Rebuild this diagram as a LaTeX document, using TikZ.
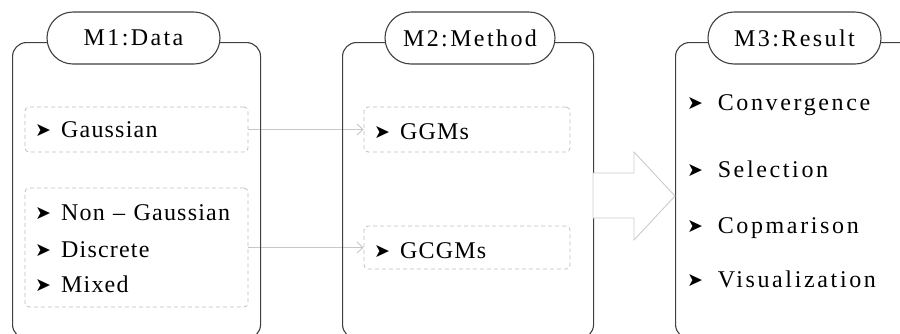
\documentclass[tikz,border=0pt]{standalone}
\usepackage{fontspec}
\setmainfont{Liberation Serif}[LetterSpace=5]
\newfontfamily\symfont{DejaVu Sans}
\usetikzlibrary{arrows.meta}

\newcommand{\bul}[1][10pt]{{\symfont\fontsize{19}{19}\selectfont\raisebox{1pt}{➤}}\hspace{#1}}

\begin{document}
\begin{tikzpicture}[x = 1pt, y = -1pt,
	panel/.style = {draw = black!75, line width = 1.1pt, rounded corners = 14pt, anchor = north west, inner sep = 0pt},
	title/.style = {draw = black!75, line width = 1.1pt, fill = white, rounded corners = 26pt, minimum height = 52pt, inner sep = 0pt, font = \fontsize{24}{26}\selectfont\addfontfeatures{LetterSpace=10}},
	group/.style = {draw = black!25, line width = 0.8pt, dash pattern = on 4pt off 3pt, rounded corners = 4pt, inner sep = 0pt},
	entry/.style = {anchor = base west, inner sep = 0pt, font = \fontsize{24}{26}\selectfont},
	wideentry/.style = {entry, font = \fontsize{24}{26}\selectfont\addfontfeatures{LetterSpace=11}},
	conn/.style = {draw = black!22, line width = 0.9pt, -{Straight Barb[length = 6pt, width = 11pt]}},
	bigarrow/.style = {draw = black!20, line width = 0.9pt, fill = white}]
	%	canvas
	
	\useasboundingbox (0, 0) rectangle (900, 333);
	\clip (0, 0) rectangle (900, 333);
	
	%	dashed groups
	\node[group, minimum width = 223pt, minimum height = 45pt] (gauss) at (136.5, 129.5) {};
	\node[group, minimum width = 223pt, minimum height = 119pt] (nongauss) at (136.5, 247.5) {};
	\node[group, minimum width = 206pt, minimum height = 45pt] (ggms) at (467, 129.5) {};
	\node[group, minimum width = 206pt, minimum height = 43pt] (gcgms) at (467, 247.5) {};
	
	%	connectors
	\draw[conn] (gauss.east) -- (ggms.west);
	\draw[conn] (nongauss.east) -- (gcgms.west);
	
	%	panels
	\node[panel, minimum width = 248pt, minimum height = 296pt] (data) at (12, 42) {};
	\node[panel, minimum width = 251pt, minimum height = 296pt] (method) at (342, 42) {};
	\node[panel, minimum width = 300pt, minimum height = 296pt] (result) at (675, 42) {};
	
	%	titles
	\node[title, minimum width = 173pt] (datatitle) at (133.5, 38) {M1:Data};
	\node[title, minimum width = 170pt] (methodtitle) at (470, 38) {M2:Method};
	\node[title, minimum width = 173pt] (resulttitle) at (794.5, 38) {M3:Result};
	
	%	big arrow
	\draw[bigarrow] (593, 173) -- (634, 173) -- (634, 152) -- (675, 196) -- (634, 240) -- (634, 218) -- (593, 218) -- cycle;
	
	%	entries
	\node[entry] (gausstext) at (35, 137) {\bul Gaussian};
	\node[entry] (nongausstext) at (35, 220) {\bul Non\hspace{0.35em}--\hspace{0.35em}Gaussian};
	\node[entry] (discretetext) at (35, 257) {\bul Discrete};
	\node[entry] (mixedtext) at (35, 292) {\bul Mixed};
	
	\node[entry] (ggmstext) at (374, 139) {\bul GGMs};
	\node[entry] (gcgmstext) at (374, 258) {\bul GCGMs};
	
	\node[wideentry] (convtext) at (687, 110) {\bul[6pt] Convergence};
	\node[wideentry] (seltext) at (687, 177) {\bul[6pt] Selection};
	\node[wideentry] (comptext) at (687, 233) {\bul[6pt] Copmarison};
	\node[wideentry] (vistext) at (687, 287) {\bul[6pt] Visualization};
\end{tikzpicture}
\end{document}
